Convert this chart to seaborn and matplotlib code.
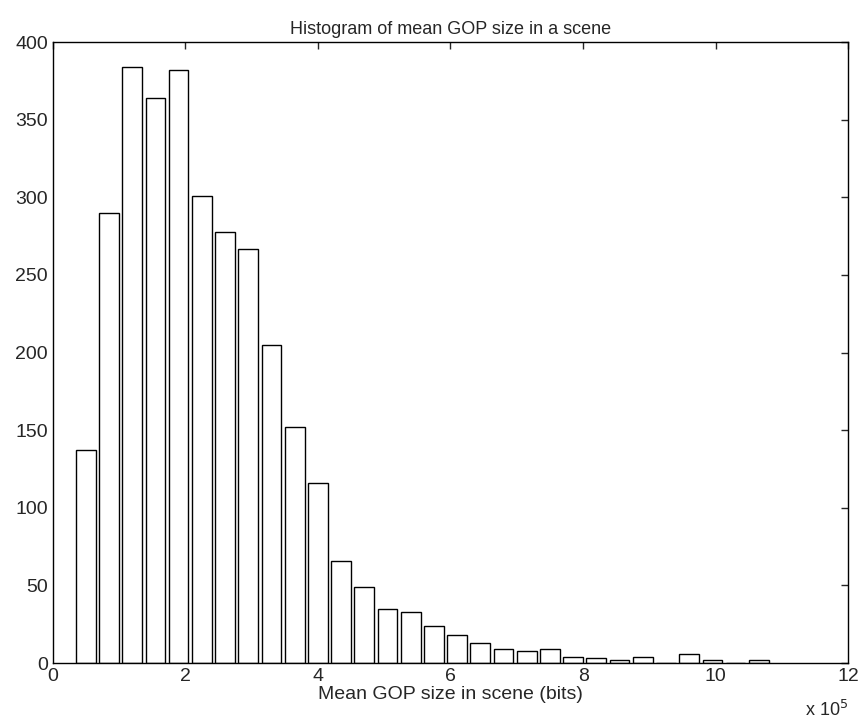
import numpy as np
import pandas as pd
import seaborn as sns
import matplotlib.pyplot as plt

# bin centres (x 1e5 bits) and counts
bin_centres = [0.50 + 0.35 * k for k in range(30)]
counts = [137, 290, 384, 364, 382, 301, 278, 267, 205, 152,
          116, 66, 49, 35, 33, 24, 18, 13, 9, 8,
          9, 4, 3, 2, 4, 0, 6, 2, 0, 2]

df = pd.DataFrame({"centre": bin_centres, "count": counts})

sns.set_style("white")
plt.rcParams['font.family'] = ['Liberation Sans', 'DejaVu Sans']

fig = plt.figure(figsize=(8.63, 7.27), dpi=100)
ax = fig.add_axes([0.061, 0.088, 0.922, 0.854])
sns.barplot(data=df, x="centre", y="count", native_scale=True, width=0.85,
            color="white", edgecolor="black", linewidth=1.0, ax=ax)

ax.set_xlim(0, 12)
ax.set_ylim(0, 400)
ax.set_xticks(range(0, 13, 2))
ax.set_xticklabels([str(v) for v in range(0, 13, 2)])
ax.set_yticks(range(0, 401, 50))
ax.tick_params(direction="in", top=True, right=True, labelsize=14, length=5, width=1)
for s in ax.spines.values():
    s.set_color("black")
    s.set_linewidth(1)

ax.set_title("Histogram of mean GOP size in a scene", fontsize=13, pad=6)
ax.set_xlabel("Mean GOP size in scene (bits)", fontsize=14, labelpad=1)
ax.set_ylabel("")
ax.text(1.0, -0.06, r"x 10$^{5}$", transform=ax.transAxes, ha="right", va="top", fontsize=13)

plt.savefig("out.png", dpi=100)
